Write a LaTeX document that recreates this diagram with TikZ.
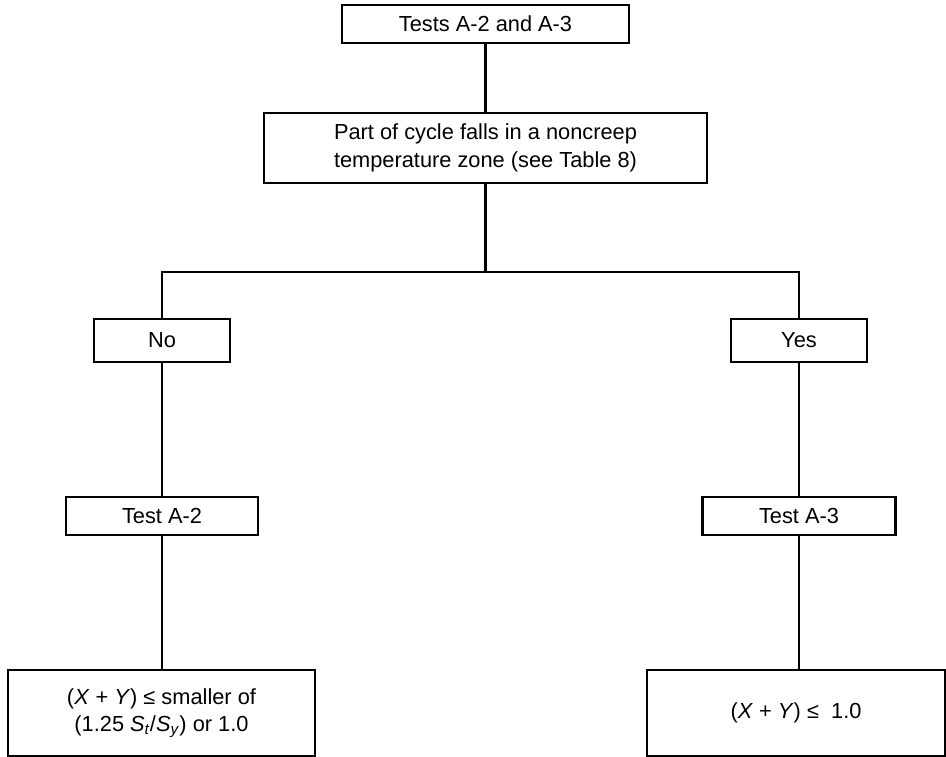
\documentclass[tikz,border=0pt]{standalone}
\usepackage{fontspec}
\setmainfont{Liberation Sans}
\begin{document}
\begin{tikzpicture}[x=1pt,y=-1pt,
  box/.style={draw,line width=2.5pt,align=center,inner sep=0pt,
    font=\fontsize{21.8}{27.5}\selectfont},
  link/.style={line width=2.5pt}]
\useasboundingbox (0,0) rectangle (946,757);
% decision chain
\node[box,minimum width=287pt,minimum height=38pt] (top) at (485.5,24) {Tests A-2 and A-3};
\node[box,minimum width=443pt,minimum height=70pt] (part) at (485.5,148)
  {Part of cycle falls in a noncreep\\temperature zone (see Table 8)};
\node[box,minimum width=136pt,minimum height=43pt] (no) at (162,340.5) {No};
\node[box,minimum width=136pt,minimum height=43pt] (yes) at (799,340.5) {Yes};
\node[box,minimum width=192pt,minimum height=38pt] (ta2) at (162,516) {Test A-2};
\node[box,minimum width=193pt,minimum height=38pt] (ta3) at (799,516) {Test A-3};
\node[box,minimum width=307pt,minimum height=86pt] (r2) at (161.5,713)
  {(\textit{X} + \textit{Y}) ≤ smaller of\\(1.25 \textit{S}\textsubscript{\textit{t}}/\textit{S}\textsubscript{\textit{y}}) or 1.0};
\node[box,minimum width=298pt,minimum height=86pt] (r3) at (796,713)
  {(\textit{X} + \textit{Y}) ≤\ \ 1.0};
\coordinate (j) at (485.5,272);
% connectors
\draw[link] (top.south) -- (part.north);
\draw[link] (part.south) -- (j);
\draw[link] (j) -| (no.north);
\draw[link] (j) -| (yes.north);
\draw[link] (no.south) -- (ta2.north);
\draw[link] (yes.south) -- (ta3.north);
\draw[link] (ta2.south) -- (ta2.south |- r2.north);
\draw[link] (ta3.south) -- (ta3.south |- r3.north);
\end{tikzpicture}
\end{document}
